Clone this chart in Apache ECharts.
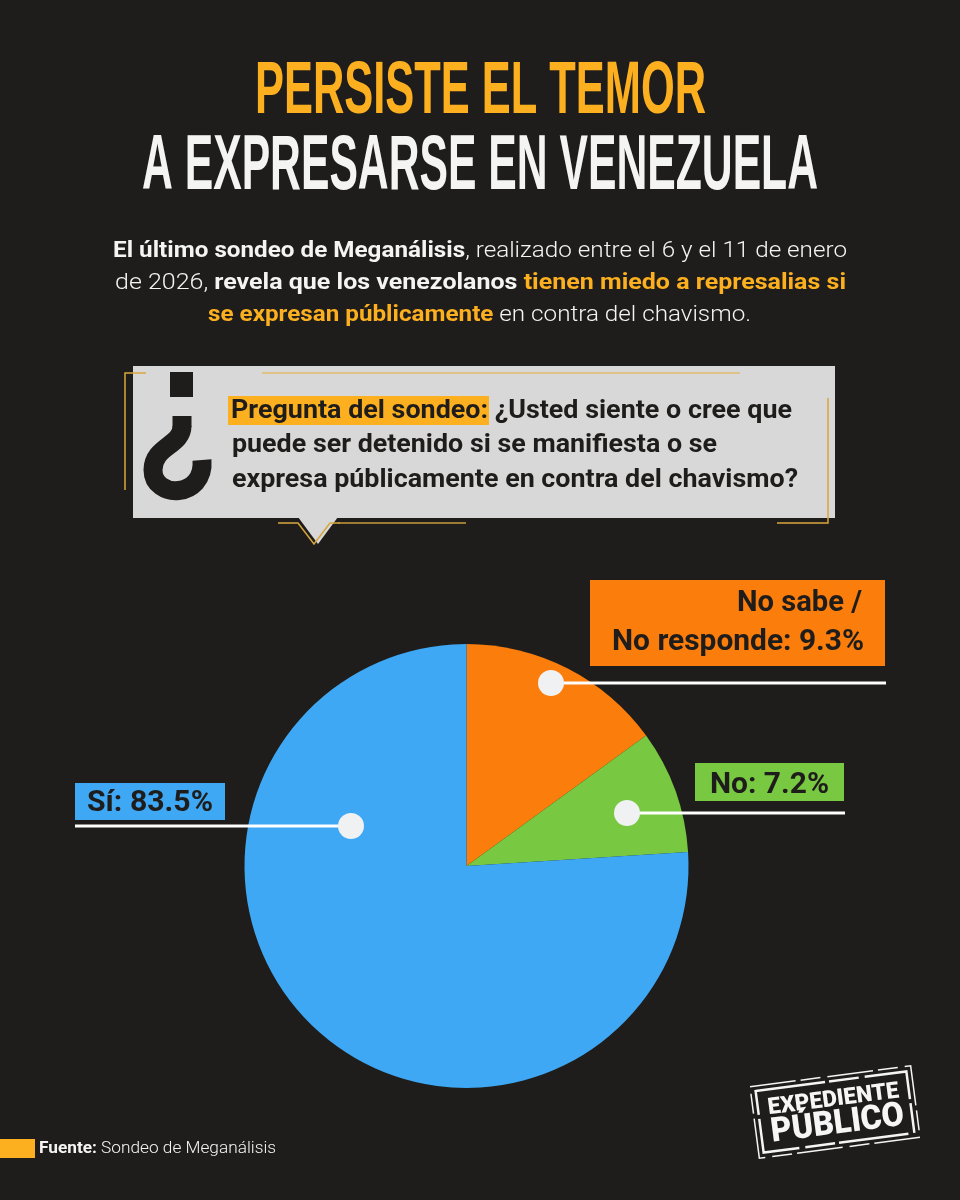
<!DOCTYPE html>
<html><head><meta charset="utf-8">
<style>html,body{margin:0;padding:0;background:#1e1d1b}#c{width:960px;height:1200px}</style>
<script src="https://cdn.jsdelivr.net/npm/echarts@6/dist/echarts.min.js"></script>
</head><body><div id="c"></div>
<script>
// Answer categories, in clockwise order from 12 o'clock
const categories = ['No sabe / No responde', 'No', 'Sí'];
// Percentages as printed on the reference's labels
const printedValues = [9.3, 7.2, 83.5];
// Slice sizes as measured on the reference's pie. The original graphic's wedges
// do not follow its printed percentages (orange spans ~54°, green ~32°), so the
// geometry is reproduced as drawn and the printed numbers are kept as labels.
const drawnShares = [15, 9, 76];
const sliceColors = ['#fb7d0c', '#78c842', '#3fa8f4'];
const titleLines = ['PERSISTE EL TEMOR', 'A EXPRESARSE EN VENEZUELA'];

const BG='#1e1d1b', YEL='#fdb01f', WHITE='#f4f4f2', GRAY='#d8d8d8', INK='#1e1d1b';
const SANS='Roboto';
const mc=document.createElement('canvas').getContext('2d');
function fit(segs,left,right,y,z){
  let w=0;const rich={};let str='';
  segs.forEach((s,i)=>{
    const fam=s[4]||SANS;
    mc.font=`${s[2]} ${s[1]}px "${fam}"`;
    w+=mc.measureText(s[0]).width;
    rich['s'+i]={fontSize:s[1],fontWeight:s[2],fontFamily:fam,fill:s[3],color:s[3]};
    str+=`{s${i}|${s[0]}}`;
  });
  return {type:'text',x:left,y:y,scaleX:(right-left)/w,z:z||50,silent:true,
    style:{text:str,rich:rich,align:'left',verticalAlign:'middle'}};
}
const L=(pts,color,width,extra)=>({type:'polyline',z:extra&&extra.z||20,silent:true,shape:{points:pts},
  style:Object.assign({stroke:color,lineWidth:width,fill:null},extra&&extra.style||{})});
const R=(x,y,w,h,color,z)=>({type:'rect',z:z||10,silent:true,shape:{x,y,width:w,height:h},style:{fill:color}});
const dot=(x,y)=>({type:'circle',z:40,silent:true,shape:{cx:x,cy:y,r:13},style:{fill:'#eff1f3'}});
const C=(x1,y1,a,b,c,d,x2,y2)=>({type:'bezierCurve',z:20,silent:true,
  shape:{x1,y1,cpx1:a,cpy1:b,cpx2:c,cpy2:d,x2,y2},style:{stroke:INK,lineWidth:19,fill:null}});

const TF='Liberation Sans';
const els=[
  fit([[titleLines[0],75,700,YEL,TF]],255,706,92),
  fit([[titleLines[1],77,700,WHITE,TF]],142,818,168),
  fit([['El último sondeo de Meganálisis',22,700,WHITE],[', realizado entre el 6 y el 11 de enero',22,300,WHITE]],113,847,251),
  fit([['de 2026, ',22,300,WHITE],['revela que los venezolanos ',22,700,WHITE],['tienen miedo a represalias si',22,700,YEL]],115,846,283),
  fit([['se expresan públicamente',22,700,YEL],[' en contra del chavismo.',22,300,WHITE]],208,751,315),
  R(133,366,702,152,GRAY,10),
  {type:'polygon',z:10,silent:true,shape:{points:[[298,517],[338,517],[318,544]]},style:{fill:GRAY}},
  L([[146,373],[125,373],[125,490]],'#d9a53c',1.5),
  L([[262,373],[740,373]],'#e2bb6c',1.5),
  L([[828,398],[828,523],[777,523]],'#d9a53c',1.5),
  L([[278,523],[298,523],[314,544],[330,523],[340,523]],'#d9a53c',1.5),
  L([[338,523],[466,523]],'#c89a3a',1.5),
  R(170,372,23,25,INK,20),
  L([[182,416],[182,427]],INK,19),
  C(182,426,182,446,153,446,153,470),
  C(153,470,153,499,205,499,202,460),
  R(228,396,261,29,YEL,15),
  fit([['Pregunta del sondeo: ¿Usted siente o cree que',26,700,INK]],231,792,411),
  fit([['puede ser detenido si se manifiesta o se',26,700,INK]],232,717,445),
  fit([['expresa públicamente en contra del chavismo?',26,700,INK]],232,798,480),
  R(590,580,295,86,sliceColors[0]),
  fit([['No sabe /',29,700,INK]],737,862,604),
  fit([['No responde: '+printedValues[0]+'%',29,700,INK]],612,864,643),
  L([[551,683],[886,683]],'#ffffff',3,{z:30}),dot(551,683),
  R(695,763,149,38,sliceColors[1]),
  fit([[categories[1]+': '+printedValues[1]+'%',29,700,INK]],710,829,786),
  L([[627,813],[845,813]],'#ffffff',3,{z:30}),dot(627,813),
  R(75,783,150,37,sliceColors[2]),
  fit([[categories[2]+': '+printedValues[2]+'%',29,700,INK]],87,213,804),
  L([[75,826],[351,826]],'#ffffff',3,{z:30}),dot(351,826),
  R(0,1139,35,19,YEL),
  fit([['Fuente:',17,700,WHITE],[' Sondeo de Meganálisis',17,300,WHITE]],39,276,1149),
  {type:'group',x:835,y:1112,rotation:0.13,silent:true,children:[
    {type:'rect',z:30,shape:{x:-81,y:-36,width:162,height:72},style:{fill:null,stroke:'#f4f4f4',lineWidth:1.5,lineDash:[46,5,20,7]}},
    {type:'rect',z:30,shape:{x:-76,y:-31,width:152,height:62},style:{fill:null,stroke:'#f4f4f4',lineWidth:2.5,lineDash:[70,4,30,6]}},
    fit([['EXPEDIENTE',23,900,'#f6f6f6','Roboto']],-66,66,-12,35),
    fit([['PÚBLICO',34,900,'#f6f6f6','Roboto']],-66,68,13,35)
  ]}
];
const chart=echarts.init(document.getElementById('c'),null,{width:960,height:1200,renderer:'canvas'});
chart.setOption({
  backgroundColor:BG,animation:false,
  series:[{type:'pie',center:[466.5,866],radius:[0,222],startAngle:90,clockwise:true,silent:true,
    label:{show:false},labelLine:{show:false},
    itemStyle:{borderWidth:0},
    data:categories.map((n,i)=>({name:n,value:drawnShares[i],itemStyle:{color:sliceColors[i]}}))}],
  graphic:{elements:els}
});
</script></body></html>
